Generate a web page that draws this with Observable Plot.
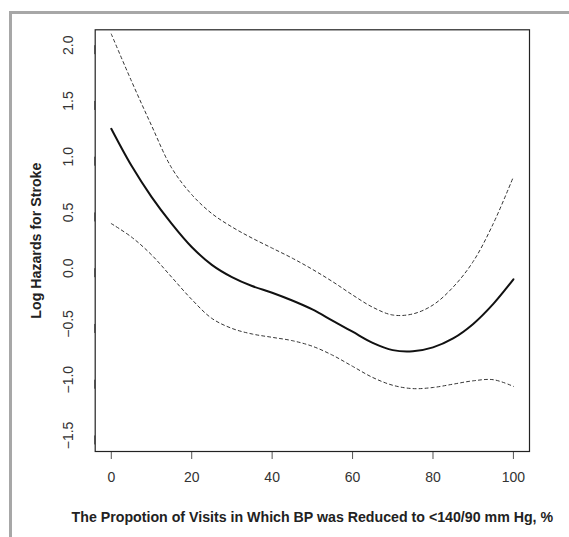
<!DOCTYPE html>
<html><head><meta charset="utf-8">
<script src="https://cdn.jsdelivr.net/npm/d3@7"></script>
<script src="https://cdn.jsdelivr.net/npm/@observablehq/plot@0.6"></script>
<style>
body{margin:0;background:#fff;}
#wrap{position:relative;width:569px;height:537px;overflow:hidden;background:#fff;}
#border{position:absolute;left:9px;top:11px;right:-10px;bottom:-10px;border-top:3px solid #a7a7a7;border-left:3px solid #a7a7a7;}
#chart{position:absolute;left:0;top:0;}
svg [aria-label="x-axis label"] text, svg [aria-label="y-axis label"] text, svg [aria-label="x-axis label"], svg [aria-label="y-axis label"]{font-weight:bold;font-size:14.2px;fill:#222;}
</style></head><body>
<div id="wrap"><div id="border"></div><div id="chart"></div></div>
<script>
const xValues = [0,5,10,15,20,25,30,35,40,45,50,55,60,65,70,75,80,85,90,95,100];
const fitValues = [1.25,0.92,0.64,0.40,0.19,0.03,-0.08,-0.16,-0.22,-0.29,-0.37,-0.47,-0.57,-0.67,-0.735,-0.745,-0.71,-0.63,-0.50,-0.32,-0.10];
const upperValues = [2.10,1.68,1.28,0.90,0.66,0.49,0.37,0.27,0.18,0.09,-0.01,-0.12,-0.24,-0.35,-0.42,-0.41,-0.33,-0.17,0.06,0.40,0.82];
const lowerValues = [0.40,0.28,0.12,-0.08,-0.28,-0.45,-0.54,-0.59,-0.62,-0.65,-0.70,-0.78,-0.88,-0.98,-1.05,-1.08,-1.07,-1.04,-1.01,-1.00,-1.06];
const xTicks = [0,20,40,60,80,100];
const yTicks = [-1.5,-1.0,-0.5,0.0,0.5,1.0,1.5,2.0];
const xTitle = "The Propotion of Visits in Which BP was Reduced to <140/90 mm Hg, %";
const yTitle = "Log Hazards for Stroke";

const rows = xValues.map((x,i)=>({x, fit: fitValues[i], upper: upperValues[i], lower: lowerValues[i]}));
const fmt = d => (d < 0 ? "\u2212" : "") + Math.abs(d).toFixed(1);

const chart = Plot.plot({
  width: 569, height: 537,
  marginLeft: 94.7, marginRight: 40, marginTop: 29.3, marginBottom: 86,
  style: {fontFamily: "'Liberation Sans', Arial, sans-serif", fontSize: "14px", color: "#222", background: "transparent"},
  x: {domain: [-4, 104]},
  y: {domain: [-1.644, 2.138]},
  marks: [
    Plot.axisX({ticks: xTicks, tickSize: 8, tickPadding: 13, tickFormat: d => String(d), stroke: "#555", fill: "#333", fontSize: 14,
      label: xTitle, labelAnchor: "center", labelArrow: "none", labelOffset: 70.9}),
    Plot.axisY({ticks: yTicks, tickSize: 9, tickPadding: 17.4, rotate: -90, textAnchor: "middle", tickFormat: fmt, stroke: "#555", fill: "#333", fontSize: 14,
      label: yTitle, labelAnchor: "center", labelArrow: "none", labelOffset: 64.7}),
    Plot.frame({stroke: "#222", strokeWidth: 1.2}),
    Plot.line(rows, {x: "x", y: "upper", stroke: "#333", strokeWidth: 1, strokeDasharray: "3,3", curve: "catmull-rom"}),
    Plot.line(rows, {x: "x", y: "lower", stroke: "#333", strokeWidth: 1, strokeDasharray: "3,3", curve: "catmull-rom"}),
    Plot.line(rows, {x: "x", y: "fit", stroke: "#111", strokeWidth: 2, curve: "catmull-rom"})
  ]
});
document.getElementById("chart").appendChild(chart);
</script>
</body></html>
